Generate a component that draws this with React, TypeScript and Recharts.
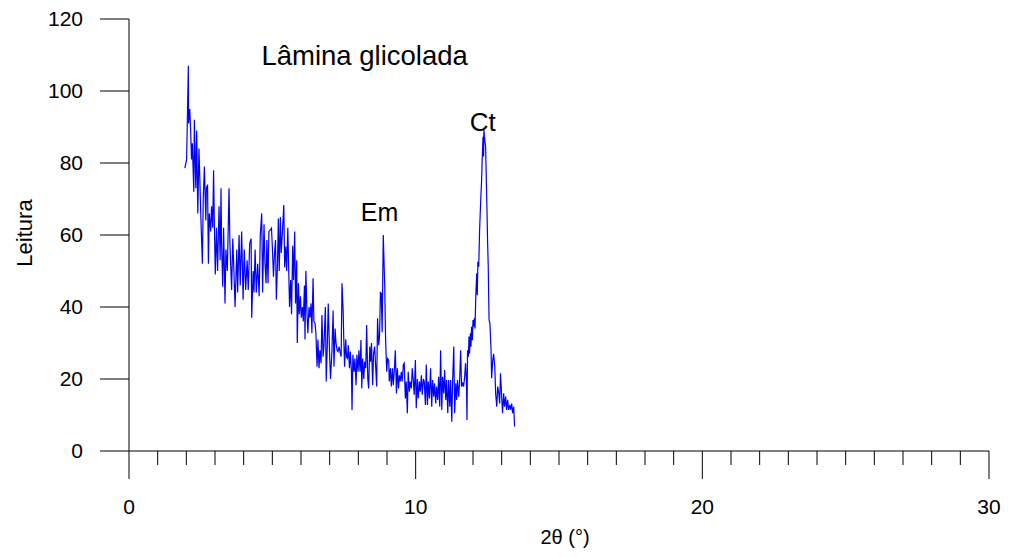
import React from "react";
import { LineChart, Line, XAxis, YAxis, ReferenceDot } from "recharts";

// [2θ (°), leitura], split by region
const SCAN_LOW: [number, number][] = [
  [1.95, 78.6], [2.01, 81], [2.07, 107], [2.08, 91], [2.12, 95], [2.15, 89], [2.18, 81],
  [2.21, 85.5], [2.26, 72], [2.28, 92], [2.33, 73], [2.36, 89], [2.4, 66], [2.44, 84],
  [2.48, 73], [2.51, 64], [2.56, 52], [2.59, 70], [2.63, 79], [2.68, 64], [2.7, 73],
  [2.74, 74], [2.77, 52], [2.8, 66], [2.85, 61], [2.88, 68], [2.92, 62], [2.95, 78],
  [2.98, 62], [3.01, 49], [3.05, 62], [3.09, 50], [3.14, 68], [3.18, 53], [3.21, 73],
  [3.23, 57.6], [3.27, 45.6], [3.3, 62], [3.35, 41], [3.38, 56], [3.43, 50], [3.49, 73],
  [3.52, 57.6], [3.58, 44.7], [3.62, 59], [3.66, 50], [3.7, 40], [3.76, 56], [3.79, 44],
  [3.84, 60], [3.88, 46], [3.93, 61], [3.98, 42], [4.02, 56], [4.07, 44.7], [4.12, 53],
  [4.16, 44.7], [4.21, 57.6], [4.26, 59], [4.28, 37], [4.33, 50], [4.36, 44], [4.4, 56],
  [4.44, 44], [4.49, 52], [4.54, 43], [4.58, 60], [4.63, 66], [4.66, 44], [4.71, 63],
  [4.74, 53],
];

const SCAN_MID: [number, number][] = [
  [4.78, 46.6], [4.81, 58.6], [4.85, 46.6], [4.88, 61], [4.93, 61.4], [4.97, 61.9],
  [5.0, 56.8], [5.04, 48.4], [5.07, 54], [5.11, 58.6], [5.14, 42], [5.18, 52], [5.21, 64.6],
  [5.24, 50], [5.28, 65], [5.31, 55], [5.36, 62], [5.4, 68.3], [5.43, 51], [5.47, 56.8],
  [5.5, 50], [5.54, 62], [5.57, 51], [5.6, 40], [5.64, 47.5], [5.67, 38], [5.71, 57],
  [5.74, 47.5], [5.78, 61], [5.81, 41], [5.85, 53], [5.87, 30], [5.91, 46.6], [5.94, 38],
  [5.98, 43], [6.01, 37], [6.05, 40], [6.08, 36], [6.12, 46], [6.14, 31], [6.17, 50],
  [6.21, 38], [6.24, 32.7], [6.28, 40], [6.31, 37], [6.35, 41], [6.38, 32.7], [6.42, 48],
  [6.45, 36], [6.49, 35.5], [6.52, 32.7], [6.56, 23.4], [6.59, 31], [6.63, 23], [6.66, 28],
  [6.7, 24.4], [6.73, 37.8], [6.77, 26.2], [6.8, 29], [6.85, 40], [6.88, 19.3], [6.92, 30],
  [6.95, 41], [7.0, 26.2], [7.03, 20], [7.08, 28], [7.12, 39], [7.15, 23.4], [7.19, 34],
  [7.22, 30], [7.26, 28], [7.29, 27.6], [7.33, 29], [7.36, 27.6], [7.4, 26.2], [7.43, 46.6],
  [7.47, 39], [7.49, 31.8], [7.52, 23.4], [7.56, 31], [7.59, 26],
];

const SCAN_EM: [number, number][] = [
  [7.62, 25.7], [7.65, 29.4], [7.69, 23], [7.72, 27.6], [7.76, 22], [7.78, 11.4],
  [7.81, 26.7], [7.85, 22], [7.88, 25.7], [7.92, 18.3], [7.95, 26.7], [7.99, 22], [8.02, 28],
  [8.06, 22], [8.09, 30.8], [8.12, 17.4], [8.15, 25.7], [8.19, 20], [8.22, 24.8], [8.26, 23],
  [8.29, 35], [8.33, 20], [8.36, 17.4], [8.4, 29], [8.43, 24.8], [8.46, 30], [8.5, 18.3],
  [8.53, 27], [8.57, 29], [8.6, 24], [8.64, 17.9], [8.67, 36.9], [8.71, 29.4], [8.74, 32],
  [8.77, 44], [8.8, 43.8], [8.83, 33], [8.87, 60], [8.92, 46], [8.95, 31.3], [8.99, 22],
  [9.02, 25.7], [9.06, 25.3], [9.08, 19.3], [9.12, 23], [9.15, 17.9], [9.19, 23], [9.22, 18.3],
  [9.26, 23], [9.29, 28], [9.33, 16], [9.36, 23], [9.4, 17.4], [9.43, 21], [9.46, 19.3],
  [9.5, 22], [9.53, 19.3], [9.57, 24], [9.6, 24.4], [9.64, 14.6], [9.67, 19.3], [9.71, 10.5],
  [9.74, 22], [9.78, 16.5], [9.81, 19.3], [9.85, 17.4], [9.88, 23], [9.92, 19.3], [9.95, 15.6],
  [9.99, 25.3], [10.02, 11.9], [10.06, 20], [10.09, 14.6], [10.13, 19.3], [10.16, 16.5],
  [10.2, 21], [10.23, 15.6], [10.27, 20], [10.3, 19.3], [10.34, 12.8], [10.37, 24],
  [10.41, 12.8], [10.44, 19.3], [10.48, 14.6],
];

const SCAN_CT: [number, number][] = [
  [10.52, 23], [10.56, 12.3], [10.59, 19.7], [10.63, 15.1], [10.66, 18.8], [10.7, 13.2],
  [10.73, 17.9], [10.77, 14.2], [10.8, 20.6], [10.84, 12.3], [10.87, 28], [10.91, 11.4],
  [10.94, 20.6], [10.98, 16], [11.01, 22.5], [11.05, 14.2], [11.08, 19.7], [11.12, 10.5],
  [11.15, 19.7], [11.19, 12.3], [11.22, 19.7], [11.26, 8.1], [11.29, 19.7], [11.33, 29],
  [11.36, 10.5], [11.4, 18.8], [11.43, 14.2], [11.46, 19.7], [11.5, 15.1], [11.53, 18.8],
  [11.57, 28], [11.6, 17.9], [11.64, 18.8], [11.67, 17.9], [11.71, 20.6], [11.74, 24.4],
  [11.77, 19.7], [11.79, 8.6], [11.81, 28], [11.84, 26.2], [11.86, 31.8], [11.88, 27],
  [11.91, 32.7], [11.93, 29], [11.95, 34.5], [11.98, 30.8], [12.0, 36.4], [12.02, 34.5],
  [12.05, 36.9], [12.07, 34], [12.1, 43.8], [12.13, 49.4], [12.15, 43.3], [12.17, 52.6],
  [12.2, 51.2], [12.23, 61.4], [12.27, 69.7], [12.3, 75.3], [12.32, 80.8], [12.35, 87.3],
  [12.37, 81.8], [12.38, 89.2], [12.41, 86.4], [12.44, 84.5], [12.46, 77], [12.49, 66],
  [12.51, 57.7], [12.53, 52], [12.56, 36.4], [12.59, 35.5], [12.63, 28], [12.65, 20.2],
  [12.69, 25.3], [12.72, 27], [12.76, 23.4], [12.79, 16], [12.83, 12.3], [12.86, 17.9],
  [12.9, 16], [12.93, 13.2], [12.96, 21.6], [13.0, 15.1], [13.03, 10.5], [13.07, 16],
  [13.1, 12.3], [13.14, 15.1], [13.17, 11.4], [13.21, 14.2], [13.24, 11.4], [13.28, 12.8],
  [13.31, 11.4], [13.35, 13.2], [13.38, 10.5], [13.42, 12.3], [13.45, 6.8],
];

const X_TICKS = Array.from({ length: 31 }, (_, i) => i);
const Y_TICKS = [0, 20, 40, 60, 80, 100, 120];

const FONT = "Arial, 'Liberation Sans', sans-serif";

const data = [...SCAN_LOW, ...SCAN_MID, ...SCAN_EM, ...SCAN_CT].map(([x, y]) => ({ x, y }));

// x axis: minor tick every 1°, long tick + label every 10°
const XTick = (props: any) => {
  const { x, y, payload } = props;
  const major = payload.value % 10 === 0;
  return (
    <g>
      <line x1={x} x2={x} y1={y} y2={y + (major ? 28 : 14)} stroke="#000" strokeWidth={1} />
      {major && (
        <text x={x} y={y + 63} textAnchor="middle" fontSize={21} fontFamily={FONT} fill="#000">
          {payload.value}
        </text>
      )}
    </g>
  );
};

const XLabel = (props: any) => {
  const { viewBox } = props;
  const cx = viewBox.x + viewBox.width / 2 + 6;
  return (
    <text x={cx} y={544} textAnchor="middle" fontSize={20} fontFamily={FONT} fill="#000">
      2θ (°)
    </text>
  );
};

const YLabel = () => (
  <text
    x={32}
    y={233}
    transform="rotate(-90 32 233)"
    textAnchor="middle"
    fontSize={22}
    fontFamily={FONT}
    fill="#000"
  >
    Leitura
  </text>
);

const App = () => {
  return (
    <div style={{ position: "absolute", left: 0, top: 0, fontFamily: FONT }}>
      <LineChart width={1012} height={557} data={data} margin={{ top: 19, right: 23, bottom: 16, left: 29 }}>
        <XAxis
          dataKey="x"
          type="number"
          domain={[0, 30]}
          ticks={X_TICKS}
          interval={0}
          tick={<XTick />}
          tickLine={false}
          tickSize={0}
          tickMargin={0}
          height={90}
          axisLine={{ stroke: "#000", strokeWidth: 1 }}
          label={<XLabel />}
        />
        <YAxis
          type="number"
          domain={[0, 120]}
          ticks={Y_TICKS}
          interval={0}
          width={100}
          tickSize={29}
          tickMargin={17}
          tick={{ fontSize: 21, fill: "#000", fontFamily: FONT }}
          tickLine={{ stroke: "#000", strokeWidth: 1 }}
          axisLine={{ stroke: "#000", strokeWidth: 1 }}
          label={<YLabel />}
        />
        <Line
          type="linear"
          dataKey="y"
          stroke="#0000ff"
          strokeWidth={1.2}
          dot={false}
          isAnimationActive={false}
        />
        <ReferenceDot x={8.22} y={110} r={0} label={{ value: "Lâmina glicolada", position: "center", fontSize: 27.5, fill: "#000", fontFamily: FONT }} />
        <ReferenceDot x={8.74} y={66.4} r={0} label={{ value: "Em", position: "center", fontSize: 25, fill: "#000", fontFamily: FONT }} />
        <ReferenceDot x={12.34} y={91.4} r={0} label={{ value: "Ct", position: "center", fontSize: 26, fill: "#000", fontFamily: FONT }} />
      </LineChart>
    </div>
  );
};

export default App;
